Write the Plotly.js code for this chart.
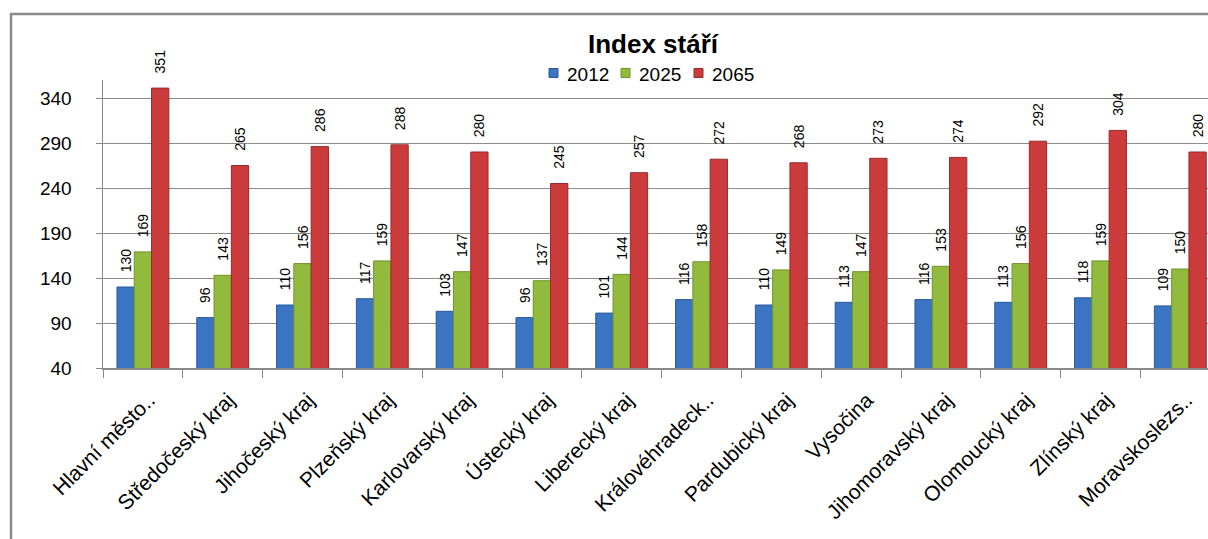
<!DOCTYPE html>
<html>
<head>
<meta charset="utf-8">
<script src="https://cdn.plot.ly/plotly-3.0.1.min.js"></script>
<style>html,body{margin:0;padding:0;background:#fff;overflow:hidden}</style>
</head>
<body>
<div id="chart" style="width:1208px;height:539px"></div>
<script>
const categories = ["Hlavní město..", "Středočeský kraj", "Jihočeský kraj", "Plzeňský kraj", "Karlovarský kraj", "Ústecký kraj", "Liberecký kraj", "Královéhradeck..", "Pardubický kraj", "Vysočina", "Jihomoravský kraj", "Olomoucký kraj", "Zlínský kraj", "Moravskoslezs.."];
const seriesNames = ["2012", "2025", "2065"];
const values2012 = [130, 96, 110, 117, 103, 96, 101, 116, 110, 113, 116, 113, 118, 109];
const values2025 = [169, 143, 156, 159, 147, 137, 144, 158, 149, 147, 153, 156, 159, 150];
const values2065 = [351, 265, 286, 288, 280, 245, 257, 272, 268, 273, 274, 292, 304, 280];
const yTicks = [40, 90, 140, 190, 240, 290, 340];
const titleText = "Index stáří";

const fills = ["#3b74c2", "#92bb3e", "#cc3b3b"];
const lines = ["#2b5a99", "#6f9229", "#992a2a"];
const allValues = [values2012, values2025, values2065];

const W = 1208, H = 539, L = 103, R = 0, T = 80, B = 171;
const PW = W - L - R, PH = H - T - B;
const px2x = p => (p - L) / PW;
const py2y = p => (H - B - p) / PH;
const FONT = "Liberation Sans, Arial, sans-serif";

const traces = allValues.map((vals, i) => ({
  type: "bar",
  name: seriesNames[i],
  x: categories,
  y: vals,
  text: vals.map(v => "\u00a0\u00a0\u00a0" + v),
  textposition: "outside",
  textangle: -90,
  constraintext: "none",
  cliponaxis: false,
  textfont: {family: FONT, size: 14, color: "#000"},
  marker: {color: fills[i], line: {color: lines[i], width: 1}},
  hoverinfo: "x+y+name"
}));

const shapes = [{
  type: "rect", xref: "paper", yref: "paper", layer: "below",
  x0: px2x(11), x1: px2x(1240), y0: py2y(580), y1: py2y(14),
  line: {color: "#8a8a8a", width: 2.5}, fillcolor: "rgba(0,0,0,0)"
}];
const annotations = [];
const legendSquareX = [549, 621, 694];
seriesNames.forEach((n, i) => {
  const sx = legendSquareX[i];
  shapes.push({
    type: "rect", xref: "paper", yref: "paper",
    x0: px2x(sx), x1: px2x(sx + 9), y0: py2y(77.5), y1: py2y(68.5),
    fillcolor: fills[i], line: {color: lines[i], width: 1}
  });
  annotations.push({
    xref: "paper", yref: "paper", x: px2x(sx + 16), y: py2y(74),
    xanchor: "left", yanchor: "middle", showarrow: false, text: n,
    font: {family: FONT, size: 19, color: "#000"}
  });
});

const layout = {
  width: W, height: H, autosize: false,
  margin: {l: L, r: R, t: T, b: B, pad: 0},
  paper_bgcolor: "#fff", plot_bgcolor: "#fff",
  showlegend: false,
  barmode: "group", bargap: 0.35, bargroupgap: 0,
  title: {
    text: "<b>" + titleText + "</b>",
    font: {family: FONT, size: 26, color: "#000"},
    xref: "container", yref: "container",
    x: 653 / W, xanchor: "center", y: 1 - 43.5 / H, yanchor: "middle"
  },
  xaxis: {
    type: "category",
    range: [-0.5, -0.5 + PW / 79.8],
    tickson: "boundaries",
    ticks: "outside", ticklen: 8, tickcolor: "#8a8a8a", tickwidth: 1,
    tickangle: -45,
    ticklabelstandoff: 10,
    ticklabelshift: 6,
    tickfont: {family: FONT, size: 21, color: "#000"},
    showline: true, linecolor: "#8a8a8a", linewidth: 1.5,
    showgrid: false, zeroline: false, fixedrange: true
  },
  yaxis: {
    range: [40, 360],
    tickmode: "array", tickvals: yTicks, ticktext: yTicks.map(String),
    ticks: "outside", ticklen: 6, tickcolor: "#8a8a8a", tickwidth: 1,
    ticklabelstandoff: 20,
    tickfont: {family: FONT, size: 19, color: "#000"},
    showline: true, linecolor: "#8a8a8a", linewidth: 1.5,
    showgrid: true, gridcolor: "#8c8c8c", gridwidth: 1,
    zeroline: false, fixedrange: true
  },
  shapes: shapes,
  annotations: annotations
};

Plotly.newPlot("chart", traces, layout, {displayModeBar: false, staticPlot: true});
</script>
</body>
</html>
